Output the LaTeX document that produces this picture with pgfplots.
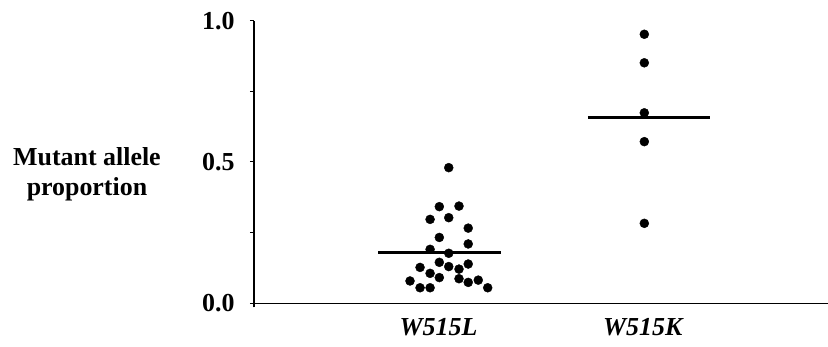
\documentclass[border=0pt]{standalone}
\usepackage{fontspec}
\setmainfont{Liberation Serif}
\usepackage{pgfplots}
\pgfplotsset{compat=1.18}
\begin{document}
\begin{tikzpicture}
\path[use as bounding box] (0,0) rectangle (828bp,347bp);
\begin{axis}[
  at={(254bp,43.7bp)}, anchor=south west,
  scale only axis, width=574bp, height=282.6bp,
  xmin=0.1, xmax=2.9, ymin=0, ymax=1,
  axis x line=bottom, axis y line=left,
  axis line style={-, line width=1.2bp},
  y axis line style={shorten <=-4bp},
  xtick={1,2}, xticklabels={\textbf{\textit{W515L}},\textbf{\textit{W515K}}},
  x tick style={draw=none},
  ytick={0,0.25,0.5,0.75,1}, yticklabels={0.0,,0.5,,1.0},
  y tick style={line width=1bp, black},
  tick align=outside, major tick length=4bp,
  /pgf/number format/assume math mode=true,
  ticklabel style={font=\fontsize{26}{29}\selectfont\bfseries},
  yticklabel style={xshift=-12bp},
  xticklabel style={yshift=-8bp},
  ylabel={Mutant allele\\proportion},
  ylabel style={rotate=-90, align=center, font=\fontsize{26}{30}\selectfont\bfseries,
    at={(axis description cs:-0.291,0.457)}, anchor=center},
  clip=false,
]
% medians
\addplot[black, line width=2.8bp] coordinates {(0.705,0.179) (1.305,0.179)};
\addplot[black, line width=2.8bp] coordinates {(1.729,0.658) (2.324,0.658)};
% W515L
\addplot[only marks, mark=*, mark size=4.5bp, black] coordinates {
(1.050,0.480) (1.004,0.342) (1.100,0.344) (0.959,0.297) (1.050,0.303)
(1.145,0.266) (1.004,0.233) (1.145,0.210) (0.959,0.191) (1.050,0.177)
(1.004,0.145) (0.910,0.127) (1.050,0.130) (1.100,0.121) (1.145,0.139)
(0.959,0.106) (1.004,0.091) (0.861,0.079) (1.100,0.087) (1.145,0.074)
(1.194,0.082) (0.910,0.055) (0.959,0.055) (1.240,0.055)
};
% W515K
\addplot[only marks, mark=*, mark size=4.5bp, black] coordinates {
(2.004,0.952) (2.004,0.851) (2.004,0.674) (2.004,0.572) (2.004,0.283)
};
\end{axis}
\end{tikzpicture}
\end{document}
